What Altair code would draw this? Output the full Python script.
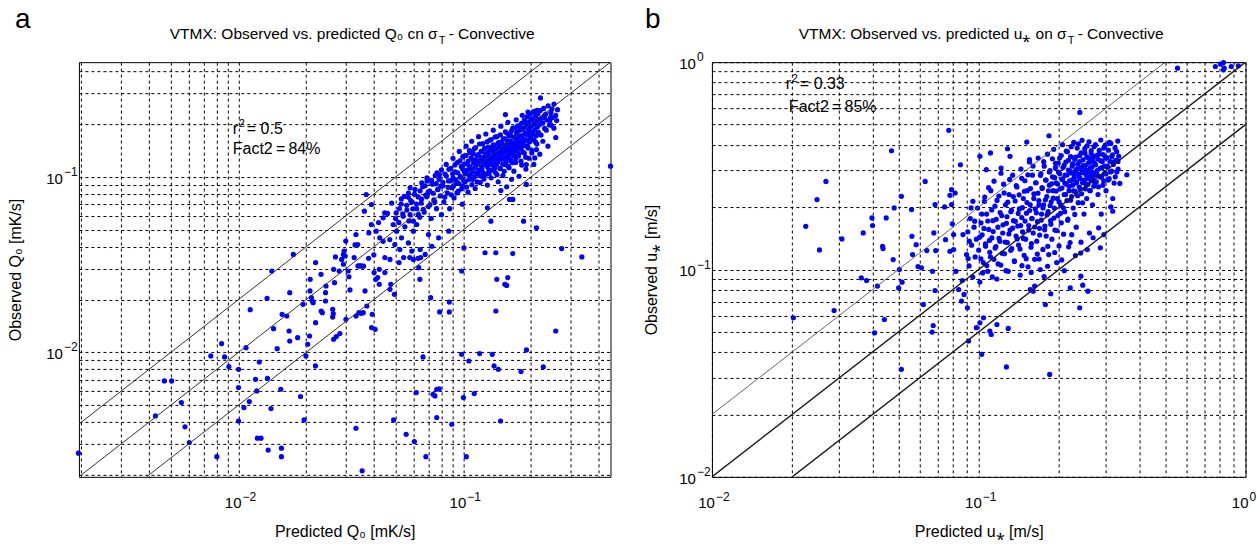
import altair as alt
import pandas as pd

FONT = "Liberation Sans"

# ---------------- Panel a : predicted vs observed Q0 (mK/s) ----------------
a_domain = [0.00195, 0.452]
a_grid = [0.002, 0.003, 0.004, 0.005, 0.006, 0.007, 0.008, 0.009,
          0.01, 0.02, 0.03, 0.04, 0.05, 0.06, 0.07, 0.08, 0.09,
          0.1, 0.2, 0.3, 0.4]
a_decades = [0.01, 0.1]
a_exponents = ["\u22122", "\u22121"]

a_scatter_low = [
    (0.00194, 0.00266), (0.00427, 0.00434), (0.00468, 0.00687), (0.00504, 0.00687), (0.00557, 0.00517),
    (0.00578, 0.00376), (0.00604, 0.00306), (0.00753, 0.00954), (0.00841, 0.01122), (0.00867, 0.00942),
    (0.00906, 0.0083), (0.0100, 0.0080), (0.0100, 0.0063), (0.0100, 0.00406), (0.00801, 0.00254),
    (0.0108, 0.01064), (0.01127, 0.01752), (0.0134, 0.0203), (0.01406, 0.0291), (0.01432, 0.01365),
    (0.01486, 0.0105), (0.01057, 0.00484), (0.01117, 0.00524), (0.01206, 0.00603), (0.01237, 0.00881),
    (0.0119, 0.00702), (0.01345, 0.00712), (0.01395, 0.00478), (0.01213, 0.00324), (0.01259, 0.00324),
    (0.01355, 0.00277), (0.01552, 0.00284), (0.01552, 0.00254), (0.01542, 0.00616), (0.01563, 0.01648),
    (0.0164, 0.01612), (0.0169, 0.0219), (0.01679, 0.01324), (0.0169, 0.01161), (0.01833, 0.01213),
    (0.01754, 0.0362), (0.01888, 0.0056), (0.01958, 0.00412), (0.01937, 0.0188), (0.01995, 0.00954),
    (0.02032, 0.01112), (0.0207, 0.0124), (0.02084, 0.0261), (0.0211, 0.0205), (0.0213, 0.01963),
    (0.0208, 0.0224), (0.02148, 0.0192), (0.02203, 0.0325), (0.02203, 0.01477), (0.022, 0.00837),
    (0.02328, 0.02786), (0.02333, 0.01722), (0.0236, 0.01684), (0.02438, 0.0219), (0.02438, 0.01963),
    (0.0245, 0.0239), (0.02624, 0.0176), (0.0264, 0.01663), (0.02624, 0.0159), (0.02673, 0.02497),
    (0.0265, 0.02975), (0.0265, 0.01187), (0.02723, 0.0123), (0.02805, 0.0291), (0.02877, 0.0339),
    (0.0293, 0.0318), (0.0293, 0.0362), (0.02985, 0.03543), (0.02825, 0.0128), (0.03006, 0.01543),
    (0.03133, 0.02269), (0.03076, 0.0291), (0.0327, 0.0347), (0.034, 0.0311), (0.0346, 0.0311),
    (0.0352, 0.0311), (0.03334, 0.01612), (0.03433, 0.01684), (0.03589, 0.01684), (0.0352, 0.0167),
    (0.03548, 0.00211), (0.0333, 0.00369), (0.03655, 0.0224), (0.03724, 0.01838), (0.0379, 0.0344),
    (0.03936, 0.01648), (0.0391, 0.01384), (0.04055, 0.01353), (0.0401, 0.0285), (0.0408, 0.0261),
    (0.0416, 0.0267), (0.0423, 0.02975), (0.0423, 0.02443), (0.0448, 0.0285), (0.0472, 0.02288),
    (0.0476, 0.02443), (0.0494, 0.02143), (0.049, 0.00412), (0.0448, 0.0347), (0.0472, 0.0339),
    (0.0518, 0.0325), (0.0543, 0.0347), (0.0578, 0.0347), (0.06, 0.0339), (0.0629, 0.0344),
    (0.0646, 0.0347), (0.0557, 0.00341), (0.0606, 0.0031), (0.0618, 0.0059), (0.0634, 0.0304),
    (0.0641, 0.0261), (0.0662, 0.00942), (0.0682, 0.00254), (0.0716, 0.0205), (0.0734, 0.00577),
    (0.0748, 0.00564), (0.0762, 0.00616), (0.0782, 0.0062), (0.0762, 0.00425), (0.0785, 0.017),
    (0.0867, 0.017), (0.0867, 0.01936), (0.0889, 0.00389), (0.0984, 0.0291), (0.0984, 0.00975),
    (0.1002, 0.00552), (0.1032, 0.00254), (0.1059, 0.00893), (0.1119, 0.00582), (0.1183, 0.00984),
    (0.1346, 0.00975), (0.1371, 0.00837), (0.1432, 0.0080), (0.125, 0.037), (0.1396, 0.037),
    (0.166, 0.0366), (0.1396, 0.01722), (0.141, 0.0261), (0.1578, 0.0267), (0.1531, 0.02443),
    (0.156, 0.0241), (0.1465, 0.00406), (0.1807, 0.00777), (0.191, 0.01032), (0.227, 0.00826),
    (0.2578, 0.01324), (0.337, 0.035),
]

a_scatter_high = [
    (0.452, 0.1153), (0.2206, 0.2827), (0.208, 0.2372), (0.154, 0.227), (0.2283, 0.219),
    (0.2446, 0.219), (0.2603, 0.21), (0.247, 0.1974), (0.2116, 0.1435), (0.208, 0.1285),
    (0.1908, 0.0907), (0.1662, 0.0745), (0.1606, 0.0745), (0.1855, 0.056), (0.2116, 0.0513),
    (0.1327, 0.056), (0.274, 0.0391), (0.1007, 0.0394), (0.147, 0.0837), (0.128, 0.0667),
    (0.0700, 0.047), (0.058, 0.0868), (0.057, 0.0767), (0.054, 0.0598), (0.0654, 0.0926),
    (0.0689, 0.0989), (0.0764, 0.1057), (0.037, 0.0795), (0.039, 0.0697), (0.0363, 0.0639),
    (0.044, 0.0585), (0.0447, 0.0625), (0.0488, 0.0536), (0.0505, 0.0491), (0.0531, 0.045),
    (0.030, 0.0431), (0.0333, 0.047), (0.0339, 0.0412), (0.0295, 0.0378), (0.039, 0.0536),
    (0.041, 0.0491), (0.0425, 0.045), (0.0471, 0.044), (0.0496, 0.0412), (0.0522, 0.0386),
    (0.057, 0.0421), (0.060, 0.0491), (0.0621, 0.0536), (0.059, 0.0378), (0.0643, 0.0386),
    (0.0677, 0.0362), (0.0725, 0.0403), (0.0777, 0.045), (0.0862, 0.0491), (0.1908, 0.1178),
]

a_scatter_band = [
    (0.046, 0.062), (0.048, 0.071), (0.050, 0.058), (0.052, 0.066), (0.053, 0.075), (0.055, 0.052),
    (0.056, 0.069), (0.057, 0.081), (0.058, 0.061), (0.059, 0.072), (0.060, 0.056), (0.061, 0.085),
    (0.062, 0.066), (0.063, 0.077), (0.064, 0.059), (0.065, 0.071), (0.066, 0.088), (0.067, 0.063),
    (0.068, 0.079), (0.069, 0.095), (0.070, 0.068), (0.071, 0.083), (0.072, 0.058), (0.073, 0.091),
    (0.074, 0.074), (0.075, 0.102), (0.076, 0.066), (0.077, 0.085), (0.078, 0.097), (0.079, 0.078),
    (0.080, 0.061), (0.080, 0.110), (0.081, 0.089), (0.082, 0.072), (0.083, 0.104), (0.084, 0.118),
    (0.085, 0.081), (0.086, 0.095), (0.087, 0.066), (0.088, 0.112), (0.089, 0.087), (0.090, 0.128),
    (0.090, 0.099), (0.091, 0.076), (0.092, 0.107), (0.093, 0.092), (0.094, 0.121), (0.095, 0.083),
    (0.096, 0.140), (0.097, 0.101), (0.098, 0.115), (0.099, 0.070), (0.099, 0.089), (0.100, 0.131),
    (0.101, 0.108), (0.102, 0.094), (0.103, 0.150), (0.104, 0.119), (0.105, 0.082), (0.106, 0.103),
    (0.107, 0.138), (0.108, 0.112), (0.109, 0.160), (0.110, 0.097), (0.111, 0.125), (0.112, 0.145),
    (0.113, 0.086), (0.114, 0.116), (0.115, 0.133), (0.116, 0.104), (0.117, 0.170), (0.118, 0.122),
    (0.119, 0.093), (0.120, 0.140), (0.121, 0.111), (0.122, 0.155), (0.123, 0.128), (0.124, 0.101),
    (0.125, 0.118), (0.126, 0.176), (0.127, 0.136), (0.128, 0.090), (0.129, 0.148), (0.130, 0.109),
    (0.130, 0.124), (0.131, 0.162), (0.132, 0.131), (0.133, 0.099), (0.134, 0.143), (0.135, 0.117),
    (0.136, 0.185), (0.137, 0.152), (0.138, 0.126), (0.139, 0.106), (0.140, 0.138), (0.141, 0.170),
    (0.142, 0.121), (0.143, 0.094), (0.144, 0.157), (0.145, 0.134), (0.146, 0.112), (0.147, 0.195),
    (0.148, 0.146), (0.149, 0.127), (0.150, 0.102), (0.151, 0.165), (0.152, 0.139), (0.153, 0.118),
    (0.154, 0.181), (0.155, 0.151), (0.156, 0.088), (0.157, 0.130), (0.158, 0.205), (0.159, 0.160),
    (0.160, 0.113), (0.161, 0.143), (0.162, 0.175), (0.163, 0.124), (0.164, 0.097), (0.165, 0.155),
    (0.166, 0.190), (0.167, 0.136), (0.168, 0.108), (0.169, 0.168), (0.170, 0.147), (0.171, 0.121),
    (0.172, 0.212), (0.173, 0.180), (0.174, 0.158), (0.176, 0.132), (0.177, 0.101), (0.178, 0.195),
    (0.179, 0.170), (0.181, 0.145), (0.182, 0.117), (0.183, 0.225), (0.184, 0.186), (0.186, 0.160),
    (0.187, 0.137), (0.189, 0.205), (0.190, 0.111), (0.191, 0.176), (0.193, 0.150), (0.194, 0.235),
    (0.196, 0.128), (0.197, 0.192), (0.199, 0.165), (0.200, 0.215), (0.202, 0.142), (0.204, 0.180),
    (0.206, 0.118), (0.208, 0.200), (0.210, 0.158), (0.213, 0.240), (0.216, 0.175), (0.219, 0.135),
    (0.222, 0.205), (0.226, 0.160), (0.230, 0.225), (0.234, 0.185), (0.238, 0.150), (0.243, 0.210),
    (0.248, 0.245), (0.253, 0.190), (0.258, 0.168), (0.027, 0.035), (0.031, 0.027), (0.033, 0.041),
    (0.036, 0.031), (0.038, 0.048), (0.040, 0.036), (0.042, 0.055), (0.044, 0.043),
]

a_scatter_core = [
    (0.0812, 0.0934), (0.0827, 0.0768), (0.0841, 0.1012), (0.0856, 0.0873), (0.0863, 0.1106),
    (0.0879, 0.0951), (0.0885, 0.0792), (0.0897, 0.1043), (0.0903, 0.0887), (0.0918, 0.1172),
    (0.0924, 0.0963), (0.0937, 0.0812), (0.0945, 0.1058), (0.0952, 0.0921), (0.0966, 0.1235),
    (0.0971, 0.0998), (0.0983, 0.0856), (0.0991, 0.1117), (0.0996, 0.1302), (0.1004, 0.0953),
    (0.1013, 0.1186), (0.1021, 0.1042), (0.1029, 0.1327), (0.1035, 0.0876), (0.1044, 0.1098),
    (0.1052, 0.1234), (0.1058, 0.0967), (0.1066, 0.1415), (0.1071, 0.1152), (0.1079, 0.1026),
    (0.1085, 0.1288), (0.1093, 0.0905), (0.1098, 0.1069), (0.1106, 0.1364), (0.1112, 0.1203),
    (0.1119, 0.0998), (0.1126, 0.1127), (0.1134, 0.1471), (0.1139, 0.1259), (0.1147, 0.1054),
    (0.1152, 0.0938), (0.1161, 0.1186), (0.1167, 0.1342), (0.1174, 0.1093), (0.1181, 0.1543),
    (0.1188, 0.1231), (0.1193, 0.1012), (0.1201, 0.1297), (0.1208, 0.1145), (0.1214, 0.1398),
    (0.1223, 0.1061), (0.1229, 0.1215), (0.1236, 0.0973), (0.1242, 0.1456), (0.1249, 0.1322),
    (0.1255, 0.1174), (0.1262, 0.1038), (0.1268, 0.1263), (0.1275, 0.1587), (0.1283, 0.1139),
    (0.1289, 0.1382), (0.1296, 0.1206), (0.1303, 0.1049), (0.1309, 0.1316), (0.1317, 0.1468),
    (0.1322, 0.1182), (0.1331, 0.1635), (0.1336, 0.1254), (0.1344, 0.1096), (0.1351, 0.1397),
    (0.1358, 0.1521), (0.1363, 0.1213), (0.1372, 0.1341), (0.1378, 0.1127), (0.1385, 0.1692),
    (0.1391, 0.1286), (0.1398, 0.1449), (0.1406, 0.1178), (0.1412, 0.1032), (0.1419, 0.1375),
    (0.1427, 0.1563), (0.1433, 0.1241), (0.1441, 0.1489), (0.1448, 0.1314), (0.1456, 0.1117),
    (0.1462, 0.1738), (0.1469, 0.1402), (0.1477, 0.1266), (0.1484, 0.1594), (0.1492, 0.1359),
    (0.1498, 0.1187), (0.1507, 0.1523), (0.1513, 0.1425), (0.1521, 0.1078), (0.1528, 0.1651),
    (0.1536, 0.1298), (0.1543, 0.1467), (0.1551, 0.1224), (0.1558, 0.1788), (0.1565, 0.1386),
    (0.1573, 0.1559), (0.1581, 0.1152), (0.1588, 0.1334), (0.1596, 0.1712), (0.1603, 0.1442),
    (0.1611, 0.1261), (0.1619, 0.1603), (0.1627, 0.1497), (0.1634, 0.1352), (0.1642, 0.1843),
    (0.1649, 0.1208), (0.1657, 0.1566), (0.1664, 0.1421), (0.1672, 0.1689), (0.1681, 0.1318),
    (0.1689, 0.1534), (0.1696, 0.1909), (0.1704, 0.1457), (0.1713, 0.1276), (0.1721, 0.1628),
    (0.1729, 0.1763), (0.1738, 0.1405), (0.1746, 0.1961), (0.1755, 0.1532), (0.1763, 0.1348),
    (0.1772, 0.1694), (0.1781, 0.1847), (0.1789, 0.1478), (0.1798, 0.1593), (0.1806, 0.1232),
    (0.1815, 0.2027), (0.1824, 0.1721), (0.1832, 0.1556), (0.1841, 0.1389), (0.1850, 0.1893),
    (0.1859, 0.1648), (0.1868, 0.2112), (0.1877, 0.1512), (0.1886, 0.1782), (0.1895, 0.1297),
    (0.1904, 0.1954), (0.1913, 0.1625), (0.1922, 0.2203), (0.1932, 0.1738), (0.1941, 0.1463),
    (0.1950, 0.1876), (0.1960, 0.2051), (0.1969, 0.1582), (0.1979, 0.1819), (0.1988, 0.2287),
    (0.1998, 0.1697), (0.2008, 0.1948), (0.2018, 0.1371), (0.2028, 0.2132), (0.2038, 0.1774),
    (0.2049, 0.2354), (0.2059, 0.1619), (0.2070, 0.2015), (0.2081, 0.1856), (0.2092, 0.2221),
    (0.2103, 0.1713), (0.2115, 0.2088), (0.2126, 0.1542), (0.2138, 0.1932), (0.2150, 0.2305),
    (0.2162, 0.1801), (0.2175, 0.2143), (0.2188, 0.1991), (0.2203, 0.2396), (0.2218, 0.1734),
    (0.2236, 0.2172), (0.2257, 0.2031), (0.2279, 0.2463), (0.2302, 0.1893), (0.2327, 0.2287),
    (0.2355, 0.2115), (0.2386, 0.2548), (0.2418, 0.1982), (0.2453, 0.2331), (0.2491, 0.2186),
    (0.2533, 0.2608), (0.2578, 0.2247), (0.2627, 0.2421), (0.0503, 0.0624), (0.0517, 0.0551),
    (0.0529, 0.0702), (0.0538, 0.0617), (0.0546, 0.0775), (0.0561, 0.0648), (0.0573, 0.0562),
    (0.0584, 0.0733), (0.0596, 0.0659), (0.0607, 0.0798), (0.0619, 0.0702), (0.0631, 0.0612),
    (0.0643, 0.0834), (0.0652, 0.0748), (0.0664, 0.0654), (0.0676, 0.0892), (0.0687, 0.0771),
    (0.0698, 0.0823), (0.0711, 0.0695), (0.0723, 0.0957), (0.0735, 0.0808), (0.0747, 0.0721),
    (0.0758, 0.0916), (0.0771, 0.0848), (0.0783, 0.1032), (0.0795, 0.0887),
]

# ---------------- Panel b : predicted vs observed u* (m/s) ----------------
b_domain = [0.01, 1.0]
b_grid = [0.01, 0.02, 0.03, 0.04, 0.05, 0.06, 0.07, 0.08, 0.09,
          0.1, 0.2, 0.3, 0.4, 0.5, 0.6, 0.7, 0.8, 0.9, 1.0]
b_decades = [0.01, 0.1, 1.0]
b_exponents = ["\u22122", "\u22121", "0"]

b_scatter_outer = [
    (0.0202, 0.0585), (0.02247, 0.1616), (0.02477, 0.2173), (0.02675, 0.266), (0.0253, 0.1243),
    (0.0307, 0.1405), (0.0287, 0.0634), (0.0369, 0.1501), (0.0363, 0.0912), (0.038, 0.0885),
    (0.0398, 0.1774), (0.040, 0.163), (0.0417, 0.0832), (0.0407, 0.0495), (0.0443, 0.0574),
    (0.0436, 0.1294), (0.0438, 0.1262), (0.045, 0.1774), (0.0471, 0.374), (0.0478, 0.1117),
    (0.0482, 0.1982), (0.0501, 0.0815), (0.0513, 0.2254), (0.0513, 0.033), (0.0516, 0.0869),
    (0.0504, 0.1), (0.056, 0.1945), (0.0562, 0.1447), (0.0583, 0.1318), (0.0565, 0.118),
    (0.061, 0.1019), (0.0592, 0.1034), (0.062, 0.0678), (0.063, 0.266), (0.0639, 0.1234),
    (0.0671, 0.098), (0.0675, 0.0537), (0.0686, 0.0792), (0.0679, 0.1501), (0.0686, 0.2056),
    (0.069, 0.1234), (0.0669, 0.0499), (0.0745, 0.2004), (0.0751, 0.1393), (0.0772, 0.469),
    (0.078, 0.228), (0.0791, 0.2427), (0.0816, 0.2339), (0.0791, 0.2056), (0.078, 0.1225),
    (0.0805, 0.1248), (0.0796, 0.166), (0.0805, 0.1474), (0.0854, 0.32), (0.0873, 0.1474),
    (0.0821, 0.098), (0.0841, 0.0801), (0.0862, 0.0704), (0.0881, 0.0758), (0.0867, 0.0885),
    (0.0916, 0.0452), (0.0907, 0.0654), (0.0913, 0.113), (0.0922, 0.1369), (0.0936, 0.1982),
    (0.0951, 0.2133), (0.0966, 0.171), (0.098, 0.0524), (0.101, 0.0553), (0.1026, 0.039),
    (0.1042, 0.0585), (0.1114, 0.0486), (0.1101, 0.0505), (0.101, 0.3513), (0.1107, 0.3648),
    (0.1068, 0.303), (0.117, 0.0543), (0.127, 0.0339), (0.129, 0.052), (0.1282, 0.3824),
    (0.1213, 0.3086), (0.131, 0.3513), (0.1514, 0.412), (0.155, 0.3386), (0.1834, 0.4417),
    (0.2393, 0.572), (0.1845, 0.0312), (0.1862, 0.0764), (0.1778, 0.0678), (0.16, 0.0786),
    (0.156, 0.0801), (0.162, 0.0832), (0.239, 0.0654), (0.2565, 0.0786), (0.2415, 0.0929),
    (0.2454, 0.084), (0.2203, 0.0815), (0.359, 0.2865), (0.3178, 0.191), (0.313, 0.2004),
    (0.3327, 0.332), (0.2944, 0.1474), (0.2856, 0.1272), (0.556, 0.935), (0.771, 0.953),
    (0.807, 0.978), (0.827, 0.995), (0.832, 0.935), (0.884, 0.953), (0.827, 0.918), (0.94, 0.96),
]

b_scatter_band = [
    (0.090, 0.118), (0.091, 0.152), (0.092, 0.104), (0.093, 0.176), (0.094, 0.131), (0.095, 0.092),
    (0.096, 0.160), (0.097, 0.115), (0.098, 0.140), (0.099, 0.198), (0.100, 0.124), (0.101, 0.087),
    (0.102, 0.168), (0.103, 0.147), (0.104, 0.108), (0.105, 0.213), (0.106, 0.133), (0.107, 0.185),
    (0.108, 0.098), (0.109, 0.156), (0.110, 0.121), (0.111, 0.240), (0.112, 0.142), (0.113, 0.172),
    (0.114, 0.112), (0.115, 0.202), (0.116, 0.129), (0.117, 0.090), (0.118, 0.160), (0.119, 0.226),
    (0.120, 0.137), (0.121, 0.105), (0.122, 0.182), (0.123, 0.150), (0.124, 0.258), (0.125, 0.119),
    (0.126, 0.205), (0.127, 0.167), (0.128, 0.135), (0.129, 0.098), (0.130, 0.230), (0.131, 0.155),
    (0.132, 0.190), (0.133, 0.126), (0.134, 0.285), (0.135, 0.172), (0.136, 0.110), (0.137, 0.214),
    (0.138, 0.145), (0.139, 0.250), (0.140, 0.162), (0.141, 0.131), (0.142, 0.196), (0.143, 0.094),
    (0.144, 0.305), (0.145, 0.178), (0.146, 0.152), (0.147, 0.220), (0.148, 0.117), (0.149, 0.268),
    (0.150, 0.140), (0.151, 0.187), (0.152, 0.240), (0.153, 0.103), (0.154, 0.163), (0.155, 0.330),
    (0.156, 0.205), (0.157, 0.128), (0.158, 0.176), (0.159, 0.285), (0.160, 0.150), (0.161, 0.232),
    (0.162, 0.112), (0.163, 0.196), (0.164, 0.262), (0.165, 0.137), (0.166, 0.170), (0.167, 0.345),
    (0.168, 0.215), (0.169, 0.158), (0.170, 0.100), (0.171, 0.290), (0.172, 0.185), (0.173, 0.246),
    (0.174, 0.125), (0.175, 0.205), (0.176, 0.315), (0.177, 0.162), (0.178, 0.270), (0.179, 0.145),
    (0.180, 0.225), (0.181, 0.360), (0.182, 0.190), (0.183, 0.118), (0.184, 0.255), (0.185, 0.300),
    (0.186, 0.172), (0.187, 0.212), (0.188, 0.140), (0.189, 0.280), (0.190, 0.240), (0.191, 0.380),
    (0.192, 0.198), (0.193, 0.155), (0.194, 0.325), (0.195, 0.262), (0.196, 0.108), (0.197, 0.220),
    (0.198, 0.182), (0.199, 0.295), (0.200, 0.130), (0.201, 0.345), (0.202, 0.245), (0.203, 0.205),
    (0.204, 0.168), (0.205, 0.272), (0.206, 0.400), (0.207, 0.310), (0.208, 0.148), (0.209, 0.230),
    (0.210, 0.190), (0.211, 0.285), (0.212, 0.330), (0.213, 0.258), (0.214, 0.215), (0.215, 0.370),
    (0.216, 0.175), (0.217, 0.302), (0.218, 0.240), (0.219, 0.268), (0.220, 0.135), (0.221, 0.350),
    (0.222, 0.292), (0.223, 0.225), (0.224, 0.315), (0.225, 0.255), (0.226, 0.198), (0.227, 0.410),
    (0.228, 0.278), (0.229, 0.340), (0.230, 0.238), (0.231, 0.300), (0.232, 0.160), (0.233, 0.265),
    (0.234, 0.385), (0.235, 0.322), (0.236, 0.210), (0.237, 0.288), (0.238, 0.250), (0.239, 0.355),
    (0.240, 0.275), (0.241, 0.120), (0.242, 0.310), (0.243, 0.232), (0.244, 0.420), (0.245, 0.262),
    (0.246, 0.338), (0.247, 0.295), (0.248, 0.185), (0.249, 0.270), (0.250, 0.365), (0.251, 0.245),
    (0.252, 0.318), (0.253, 0.285), (0.254, 0.220), (0.255, 0.395), (0.256, 0.300), (0.257, 0.258),
    (0.258, 0.345), (0.259, 0.275), (0.260, 0.150), (0.261, 0.330), (0.262, 0.240), (0.263, 0.290),
    (0.264, 0.375), (0.265, 0.268), (0.266, 0.312), (0.267, 0.205), (0.268, 0.350), (0.269, 0.282),
    (0.270, 0.252), (0.272, 0.325), (0.274, 0.400), (0.276, 0.265), (0.278, 0.300), (0.280, 0.230),
    (0.282, 0.360), (0.284, 0.280), (0.286, 0.335), (0.288, 0.185), (0.290, 0.310), (0.292, 0.255),
    (0.294, 0.385), (0.296, 0.290), (0.298, 0.345), (0.300, 0.240), (0.303, 0.315), (0.306, 0.270),
    (0.309, 0.410), (0.312, 0.295), (0.315, 0.350), (0.318, 0.220), (0.321, 0.330), (0.325, 0.280),
    (0.329, 0.370), (0.333, 0.305), (0.338, 0.260),
]

b_scatter_core = [
    (0.1008, 0.1432), (0.1019, 0.1127), (0.1027, 0.1851), (0.1034, 0.0963), (0.1046, 0.1578),
    (0.1053, 0.2237), (0.1061, 0.1296), (0.1072, 0.1045), (0.1081, 0.1714), (0.1089, 0.2482),
    (0.1097, 0.1381), (0.1106, 0.1152), (0.1118, 0.1937), (0.1124, 0.0921), (0.1133, 0.1523),
    (0.1141, 0.2668), (0.1152, 0.1268), (0.1163, 0.1745), (0.1171, 0.2154), (0.1182, 0.1064),
    (0.1191, 0.1412), (0.1203, 0.1883), (0.1212, 0.2913), (0.1224, 0.1196), (0.1233, 0.1642),
    (0.1245, 0.2341), (0.1256, 0.1357), (0.1264, 0.0987), (0.1276, 0.1796), (0.1285, 0.2112),
    (0.1297, 0.1483), (0.1306, 0.2718), (0.1318, 0.1237), (0.1327, 0.1935), (0.1339, 0.1582),
    (0.1348, 0.2247), (0.1361, 0.1093), (0.1372, 0.1707), (0.1383, 0.2536), (0.1394, 0.1404),
    (0.1405, 0.1865), (0.1417, 0.2291), (0.1428, 0.1256), (0.1436, 0.1628), (0.1449, 0.2753),
    (0.1458, 0.1987), (0.1471, 0.1412), (0.1483, 0.2384), (0.1492, 0.1713), (0.1506, 0.1128),
    (0.1517, 0.2102), (0.1528, 0.2862), (0.1539, 0.1549), (0.1552, 0.1926), (0.1563, 0.2457),
    (0.1576, 0.1334), (0.1585, 0.1762), (0.1598, 0.3154), (0.1609, 0.2203), (0.1621, 0.1603),
    (0.1634, 0.2621), (0.1645, 0.1877), (0.1658, 0.1187), (0.1667, 0.2334), (0.1681, 0.2048),
    (0.1692, 0.1465), (0.1704, 0.2845), (0.1716, 0.1732), (0.1728, 0.2481), (0.1741, 0.1981),
    (0.1752, 0.3312), (0.1766, 0.1553), (0.1778, 0.2167), (0.1789, 0.2702), (0.1803, 0.1836),
    (0.1815, 0.1294), (0.1826, 0.2398), (0.1839, 0.2953), (0.1851, 0.2036), (0.1864, 0.1654),
    (0.1877, 0.2589), (0.1889, 0.3421), (0.1902, 0.2207), (0.1914, 0.1771), (0.1926, 0.2774),
    (0.1938, 0.3097), (0.1951, 0.2389), (0.1962, 0.1542), (0.1975, 0.2583), (0.1987, 0.3263),
    (0.2001, 0.2118), (0.2013, 0.2897), (0.2026, 0.1867), (0.2038, 0.3542), (0.2051, 0.2471),
    (0.2063, 0.2738), (0.2077, 0.1985), (0.2089, 0.3176), (0.2102, 0.2613), (0.2116, 0.2297),
    (0.2128, 0.3729), (0.2142, 0.2854), (0.2155, 0.1726), (0.2168, 0.3362), (0.2182, 0.2521),
    (0.2195, 0.2986), (0.2209, 0.2158), (0.2222, 0.3913), (0.2236, 0.2702), (0.2249, 0.3237),
    (0.2264, 0.2396), (0.2277, 0.2891), (0.2291, 0.1843), (0.2305, 0.3481), (0.2319, 0.2617),
    (0.2334, 0.3053), (0.2348, 0.2269), (0.2362, 0.4036), (0.2377, 0.2795), (0.2391, 0.3318),
    (0.2406, 0.2447), (0.2421, 0.3654), (0.2436, 0.2931), (0.2451, 0.2098), (0.2466, 0.3172),
    (0.2481, 0.2687), (0.2497, 0.3826), (0.2512, 0.3012), (0.2527, 0.2558), (0.2543, 0.3491),
    (0.2559, 0.2826), (0.2575, 0.3264), (0.2591, 0.4127), (0.2607, 0.2403), (0.2623, 0.3087),
    (0.2640, 0.3638), (0.2656, 0.2742), (0.2673, 0.3356), (0.2690, 0.2934), (0.2707, 0.3917),
    (0.2724, 0.2617), (0.2741, 0.3198), (0.2759, 0.3542), (0.2776, 0.2873), (0.2794, 0.3412),
    (0.2812, 0.2504), (0.2830, 0.3753), (0.2848, 0.3076), (0.2867, 0.4213), (0.2885, 0.2792),
    (0.2904, 0.3318), (0.2923, 0.3587), (0.2942, 0.2673), (0.2961, 0.3149), (0.2981, 0.3986),
    (0.3001, 0.2894), (0.3021, 0.3462), (0.3041, 0.3127), (0.3062, 0.3761), (0.3083, 0.2741),
    (0.3104, 0.3318), (0.3126, 0.4054), (0.3148, 0.2986), (0.3171, 0.3573), (0.3194, 0.3213),
    (0.3218, 0.2612), (0.3243, 0.3857), (0.3268, 0.3364), (0.3294, 0.2957), (0.3321, 0.4162),
    (0.3349, 0.3518), (0.1452, 0.1043), (0.1573, 0.0968), (0.1684, 0.1124), (0.1812, 0.1037),
    (0.1927, 0.1208), (0.2046, 0.1112), (0.2173, 0.1286), (0.2304, 0.1167), (0.2417, 0.1354),
    (0.2552, 0.1248), (0.2683, 0.1423), (0.2815, 0.1589), (0.1758, 0.0924), (0.2093, 0.0987),
    (0.2231, 0.1473),
]

ratio_factors = [2.0, 1.0, 0.5]   # factor-of-two band and the 1:1 line


def pts_frame(*groups):
    rows = [p for g in groups for p in g]
    return pd.DataFrame({"pred": [r[0] for r in rows], "obs": [r[1] for r in rows]})


def lines_frame(dom, widths, colors):
    lo, hi = dom
    rec = []
    for i, f in enumerate(ratio_factors):
        x0 = max(lo, lo / f)
        x1 = min(hi, hi / f)
        for xv in (x0, x1):
            rec.append({"pred": xv, "obs": xv * f, "k": str(i), "w": widths[i], "c": colors[i]})
    return pd.DataFrame(rec)


def grid_axis(grid, title, is_x, title_pos):
    kw = dict(values=grid, grid=True, gridColor="#000000", gridDash=[3, 3], gridOpacity=1,
              gridWidth=1, ticks=False, domain=False, labels=False,
              title=title, titleFont=FONT, titleFontSize=16, titleFontWeight="normal",
              titleColor="#000000", titleBaseline="middle")
    if is_x:
        kw.update(titleY=title_pos)
    else:
        kw.update(titleX=title_pos)
    return alt.Axis(**kw)


def text_layer(txt, x, y, size, align="left", baseline="alphabetic"):
    return alt.Chart(pd.DataFrame({"t": [txt]})).mark_text(
        font=FONT, fontSize=size, align=align, baseline=baseline, color="#000000"
    ).encode(x=alt.value(x), y=alt.value(y), text="t:N")


def tick_labels(decades, exps, sx, sy, h):
    lab = pd.DataFrame({"v": decades, "base": ["10"] * len(decades), "e": exps})
    xb = alt.Chart(lab).mark_text(font=FONT, fontSize=15, align="right", baseline="alphabetic",
                                  color="#000000", dx=3).encode(
        x=alt.X("v:Q", scale=sx), y=alt.value(h + 31), text="base:N")
    xe = alt.Chart(lab).mark_text(font=FONT, fontSize=12, align="left", baseline="alphabetic",
                                  color="#000000", dx=4).encode(
        x=alt.X("v:Q", scale=sx), y=alt.value(h + 24), text="e:N")
    yb = alt.Chart(lab).mark_text(font=FONT, fontSize=15, align="right", baseline="middle",
                                  color="#000000", dy=2).encode(
        y=alt.Y("v:Q", scale=sy), x=alt.value(-16), text="base:N")
    ye = alt.Chart(lab).mark_text(font=FONT, fontSize=12, align="left", baseline="middle",
                                  color="#000000", dy=-5).encode(
        y=alt.Y("v:Q", scale=sy), x=alt.value(-15), text="e:N")
    return [xb, xe, yb, ye]


def panel(df, lines, dom, grid, decades, exps, xtitle, ytitle, w, h, ytitle_x):
    sx = alt.Scale(type="log", domain=dom, nice=False)
    sy = alt.Scale(type="log", domain=dom, nice=False)
    pts = alt.Chart(df).mark_circle(size=27, color="#0000ff", opacity=1).encode(
        x=alt.X("pred:Q", scale=sx, axis=grid_axis(grid, xtitle, True, 55)),
        y=alt.Y("obs:Q", scale=sy, axis=grid_axis(grid, ytitle, False, ytitle_x)),
    )
    ln = alt.Chart(lines).mark_line(clip=True).encode(
        x=alt.X("pred:Q", scale=sx),
        y=alt.Y("obs:Q", scale=sy),
        detail="k:N",
        color=alt.Color("c:N", scale=None),
        strokeWidth=alt.StrokeWidth("w:Q", scale=None),
    )
    return [pts, ln] + tick_labels(decades, exps, sx, sy, h)


df_a = pts_frame(a_scatter_low, a_scatter_high, a_scatter_band, a_scatter_core)
df_b = pts_frame(b_scatter_outer, b_scatter_band, b_scatter_core)
ln_a = lines_frame(a_domain, [1.0, 1.0, 1.0], ["#333333", "#333333", "#333333"])
ln_b = lines_frame(b_domain, [0.9, 1.4, 1.4], ["#555555", "#1a1a1a", "#1a1a1a"])

W_A, W_B, H = 532, 534, 415

anchor = alt.Chart(pd.DataFrame({"t": [0]})).mark_rule(color="white", strokeWidth=0.5).encode(
    x=alt.value(-78), x2=alt.value(-77.5), y=alt.value(-61), y2=alt.value(-61))

pa = alt.layer(
    *panel(df_a, ln_a, a_domain, a_grid, a_decades, a_exponents,
           "Predicted Q\u2080 [mK/s]", "Observed Q\u2080  [mK/s]", W_A, H, -63),
    anchor,
    text_layer("a", -64, -34, 28),
    text_layer("VTMX: Observed vs. predicted Q\u2080 cn \u03c3", 359, -23, 15.5, align="right"),
    text_layer("T", 360, -18, 11),
    text_layer("- Convective", 370, -23, 15.5),
    text_layer("r", 154, 72, 16),
    text_layer("2", 160, 65, 11),
    text_layer("= 0.5", 168, 72, 16),
    text_layer("Fact2\u2009=\u200984%", 154, 92, 16),
).properties(width=W_A, height=H)

pb = alt.layer(
    *panel(df_b, ln_b, b_domain, b_grid, b_decades, b_exponents,
           "Predicted u\u204e  [m/s]", "Observed u\u204e  [m/s]", W_B, H, -60),
    text_layer("b", -67, -34, 28),
    text_layer("VTMX: Observed vs. predicted u\u204e on \u03c3", 355, -23, 15.5, align="right"),
    text_layer("T", 356, -18, 11),
    text_layer("- Convective", 366, -23, 15.5),
    text_layer("r", 74, 27, 16),
    text_layer("2", 80, 20, 11),
    text_layer("= 0.33", 88, 27, 16),
    text_layer("Fact2\u2009=\u200985%", 77, 50, 16),
).properties(width=W_B, height=H)

chart = alt.hconcat(pa, pb, spacing=101.5, bounds="flush").resolve_scale(
    x="independent", y="independent"
).properties(padding=0, background="white").configure_view(stroke="#000000", strokeWidth=1)

chart.save("out.html", embed_options={"renderer": "svg", "actions": False})
